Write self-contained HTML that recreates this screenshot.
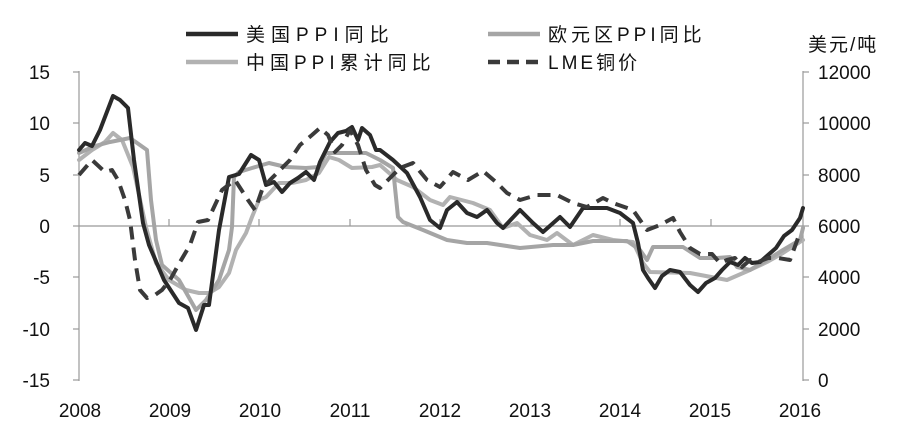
<!DOCTYPE html>
<html><head><meta charset="utf-8"><style>
html,body{margin:0;padding:0;background:#fff;}
svg{display:block;font-family:"Liberation Sans","Noto Sans CJK SC",sans-serif;}
</style></head><body>
<svg width="900" height="435" viewBox="0 0 900 435" xmlns="http://www.w3.org/2000/svg">
<g stroke="#999" stroke-width="1.2" fill="none">
<line x1="79" y1="71" x2="79" y2="381"/>
<line x1="803" y1="71" x2="803" y2="381"/>
<line x1="79" y1="226" x2="803" y2="226"/>
<line x1="73" y1="72" x2="79" y2="72"/><line x1="73" y1="123" x2="79" y2="123"/><line x1="73" y1="175" x2="79" y2="175"/><line x1="73" y1="226" x2="79" y2="226"/><line x1="73" y1="277" x2="79" y2="277"/><line x1="73" y1="329" x2="79" y2="329"/><line x1="73" y1="380" x2="79" y2="380"/>
<line x1="803" y1="72" x2="809" y2="72"/><line x1="803" y1="123" x2="809" y2="123"/><line x1="803" y1="175" x2="809" y2="175"/><line x1="803" y1="226" x2="809" y2="226"/><line x1="803" y1="277" x2="809" y2="277"/><line x1="803" y1="329" x2="809" y2="329"/><line x1="803" y1="380" x2="809" y2="380"/>
<line x1="169" y1="219" x2="169" y2="226"/><line x1="259" y1="219" x2="259" y2="226"/><line x1="350" y1="219" x2="350" y2="226"/><line x1="440" y1="219" x2="440" y2="226"/><line x1="531" y1="219" x2="531" y2="226"/><line x1="620" y1="219" x2="620" y2="226"/><line x1="711" y1="219" x2="711" y2="226"/>
</g>
<g font-size="19" fill="#111" text-anchor="end">
<text x="50" y="79">15</text><text x="50" y="130">10</text><text x="50" y="182">5</text><text x="50" y="233">0</text><text x="50" y="284">-5</text><text x="50" y="336">-10</text><text x="50" y="387">-15</text>
</g>
<g font-size="19" fill="#111">
<text x="818" y="79">12000</text><text x="818" y="130">10000</text><text x="818" y="182">8000</text><text x="818" y="233">6000</text><text x="818" y="284">4000</text><text x="818" y="336">2000</text><text x="818" y="387">0</text>
<text x="808" y="51" letter-spacing="2">美元/吨</text>
</g>
<g font-size="19" fill="#111" text-anchor="middle">
<text x="80" y="417">2008</text><text x="170" y="417">2009</text><text x="260" y="417">2010</text><text x="350" y="417">2011</text><text x="440" y="417">2012</text><text x="530" y="417">2013</text><text x="620" y="417">2014</text><text x="710" y="417">2015</text><text x="800" y="417">2016</text>
</g>
<g fill="none" stroke-linejoin="round" stroke-linecap="round" stroke-width="4">
<polyline stroke="#b2b2b2" points="79,160 92,150 105,142 113,133 122,140 133,167 146,227 156,263 169,280 186,290 199,293 209,293 219,287 229,273 236,250 246,233 252,217 259,200 266,197 279,183 292,183 306,180 319,173 329,157 339,160 352,168 372,167 380,165 397,180 413,187 430,200 443,205 450,197 473,203 490,210 503,228 517,223 530,235 547,240 557,233 573,245 593,235 613,240 633,242 643,263 650,272 690,273 727,280 750,270 767,262 783,253 803,240"/>
<polyline stroke="#a5a5a5" points="79,153 95,146 110,142 130,138 147,150 151,200 156,240 162,265 179,280 196,310 206,300 219,280 229,250 232,227 234,177 239,172 252,168 269,163 286,167 306,168 319,167 326,153 346,153 366,153 380,160 393,168 398,217 403,222 423,230 447,240 467,243 487,243 520,248 553,245 573,245 593,241 627,241 640,250 647,260 653,247 667,247 683,247 700,258 717,258 730,257 737,267 750,270 767,260 783,250 800,240 803,228"/>
<polyline stroke="#2a2a2a" points="79,150 85,143 92,146 100,130 113,96 120,100 128,108 134,160 143,223 149,245 164,280 179,303 188,308 196,330 204,305 209,305 219,230 229,177 239,174 251,155 259,160 266,185 274,182 282,192 290,183 298,178 306,172 314,180 320,162 330,142 338,133 346,131 352,127 358,140 362,128 370,135 376,150 380,150 393,160 407,173 420,197 430,220 440,228 447,210 457,202 467,213 477,217 487,210 497,223 503,228 520,210 533,223 543,232 560,217 570,227 583,208 593,208 607,208 620,213 633,223 638,243 643,270 648,278 655,288 662,276 670,270 680,272 690,285 698,292 706,283 715,278 722,270 730,262 738,265 745,258 752,263 760,262 768,255 776,248 784,236 792,230 800,218 803,208"/>
<polyline stroke="#3a3a3a" stroke-dasharray="13,8" stroke-linecap="butt" points="79,175 92,160 105,172 112,170 118,180 125,200 130,220 135,260 140,290 147,298 155,295 162,290 170,280 180,262 190,245 198,222 208,220 215,205 222,190 235,180 248,200 255,210 262,190 270,180 280,170 290,160 300,145 312,135 320,128 328,135 335,152 342,145 350,130 358,145 366,170 375,185 380,188 400,168 413,163 427,180 440,187 453,172 468,180 483,171 497,183 507,193 520,200 537,195 557,195 573,203 587,207 603,198 613,203 633,210 647,230 660,225 673,218 680,232 690,248 700,254 712,254 720,263 727,260 735,258 742,267 750,260 758,262 768,258 778,258 790,260 798,238 803,233"/>
</g>
<g stroke-width="4.5" fill="none">
<line x1="186" y1="34" x2="238" y2="34" stroke="#2a2a2a"/>
<line x1="186" y1="62" x2="238" y2="62" stroke="#b2b2b2"/>
<line x1="488" y1="34" x2="540" y2="34" stroke="#a5a5a5"/>
<line x1="488" y1="62" x2="540" y2="62" stroke="#3a3a3a" stroke-dasharray="12,7"/>
</g>
<g font-size="19" fill="#111">
<text x="246" y="41" letter-spacing="6">美国PPI同比</text>
<text x="246" y="69" letter-spacing="5">中国PPI累计同比</text>
<text x="548" y="41" letter-spacing="4">欧元区PPI同比</text>
<text x="548" y="69" letter-spacing="3">LME铜价</text>
</g>
</svg>
</body></html>
